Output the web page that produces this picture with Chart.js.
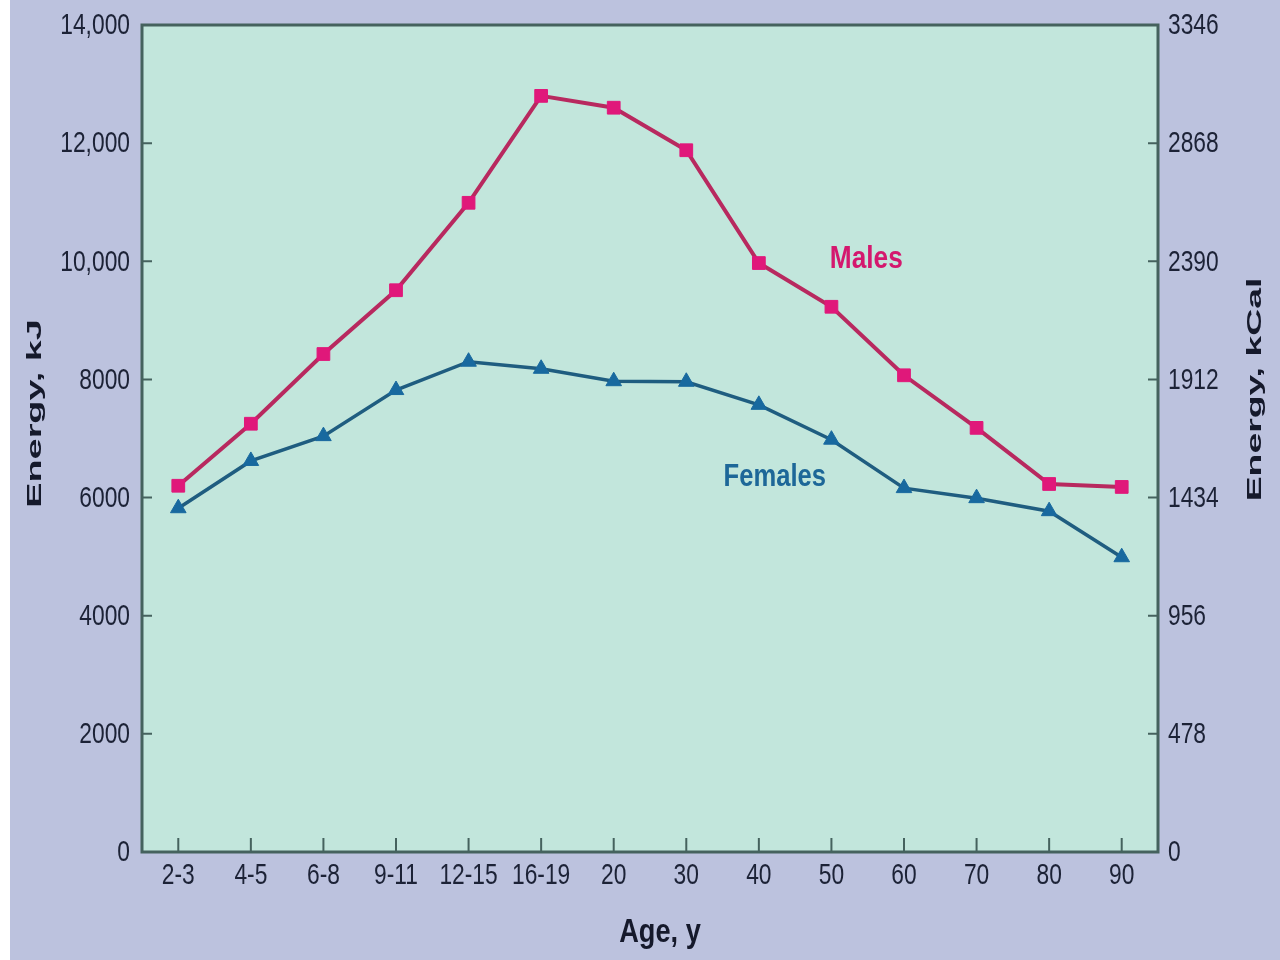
<!DOCTYPE html>
<html>
<head>
<meta charset="utf-8">
<script src="https://cdn.jsdelivr.net/npm/chart.js@4.4.1/dist/chart.umd.min.js"></script>
<style>
  html, body { margin: 0; padding: 0; background: #fff; }
  #wrap { width: 1280px; height: 960px; }
</style>
</head>
<body>
<div id="wrap"><canvas id="myChart" width="1280" height="960"></canvas></div>
<script>
// data (energy in kJ)
const ages = ['2-3', '4-5', '6-8', '9-11', '12-15', '16-19', '20', '30', '40', '50', '60', '70', '80', '90'];
const males = [6200, 7250, 8430, 9510, 10990, 12800, 12600, 11880, 9970, 9230, 8070, 7180, 6230, 6180];
const females = [5820, 6620, 7040, 7820, 8300, 8180, 7970, 7960, 7570, 6980, 6160, 5990, 5770, 4990];
const kjTicks = ['0', '2000', '4000', '6000', '8000', '10,000', '12,000', '14,000'];
const kcalTicks = ['0', '478', '956', '1434', '1912', '2390', '2868', '3346'];

const ink = '#1c2236';
const tickFont = "30px 'Liberation Sans', Arial, sans-serif";

// draw text squeezed / stretched along its own direction
function stretchText(ctx, text, x, y, font, color, sx, rot, align) {
    ctx.save();
    ctx.translate(x, y);
    if (rot) ctx.rotate(rot);
    ctx.scale(sx, 1);
    ctx.font = font;
    ctx.fillStyle = color;
    ctx.textAlign = align || 'center';
    ctx.textBaseline = 'middle';
    ctx.fillText(text, 0, 0);
    ctx.restore();
}

//background, frame, inward ticks and the labels
const frame = {
    id: 'frame',
    beforeDraw(chart) {
        const { ctx, chartArea: a } = chart;
        ctx.save();
        ctx.fillStyle = '#bcc2de';
        ctx.fillRect(10, 0, chart.width - 10, chart.height);
        ctx.fillStyle = '#c2e6dc';
        ctx.fillRect(a.left, a.top, a.right - a.left, a.bottom - a.top);
        ctx.restore();
    },
    afterDraw(chart) {
        const { ctx, chartArea: a, scales } = chart;
        ctx.save();
        ctx.strokeStyle = '#45625e';
        ctx.lineWidth = 3;
        ctx.strokeRect(a.left, a.top, a.right - a.left, a.bottom - a.top);
        ctx.lineWidth = 2;
        ctx.beginPath();
        scales.x.ticks.forEach((t, i) => {
            const px = scales.x.getPixelForTick(i);
            ctx.moveTo(px, a.bottom);
            ctx.lineTo(px, a.bottom - 14);
        });
        scales.y.ticks.forEach((t, i) => {
            const py = scales.y.getPixelForTick(i);
            ctx.moveTo(a.left, py);
            ctx.lineTo(a.left + 10, py);
        });
        scales.y2.ticks.forEach((t, i) => {
            const py = scales.y2.getPixelForTick(i);
            ctx.moveTo(a.right, py);
            ctx.lineTo(a.right - 10, py);
        });
        ctx.stroke();
        ctx.restore();

        // tick labels, narrow and tall like the print
        scales.x.ticks.forEach((t, i) => {
            stretchText(ctx, ages[i], scales.x.getPixelForTick(i), a.bottom + 24, tickFont, ink, 0.76, 0);
        });
        scales.y.ticks.forEach((t, i) => {
            stretchText(ctx, kjTicks[i], a.left - 12, scales.y.getPixelForTick(i) + 1, tickFont, ink, 0.76, 0, 'right');
        });
        scales.y2.ticks.forEach((t, i) => {
            stretchText(ctx, kcalTicks[i], a.right + 10, scales.y2.getPixelForTick(i) + 1, tickFont, ink, 0.76, 0, 'left');
        });

        const bold21 = "bold 21px 'Liberation Sans', Arial, sans-serif";
        stretchText(ctx, 'Energy, kJ', 35, (a.top + a.bottom) / 2 - 25, bold21, '#15192b', 1.8, -Math.PI / 2);
        stretchText(ctx, 'Energy, kCal', 1255, (a.top + a.bottom) / 2 - 49, bold21, '#15192b', 1.78, -Math.PI / 2);
        stretchText(ctx, 'Age, y', (a.left + a.right) / 2 + 10, 933, "bold 34px 'Liberation Sans', Arial, sans-serif", '#15192b', 0.8, 0);

        const lab = "bold 32px 'Liberation Sans', Arial, sans-serif";
        stretchText(ctx, 'Males', scales.x.getPixelForValue(9.48), scales.y.getPixelForValue(10040), lab, '#d4186e', 0.82, 0);
        stretchText(ctx, 'Females', scales.x.getPixelForValue(8.22), scales.y.getPixelForValue(6350), lab, '#1d6798', 0.8, 0);
    }
};

const config = {
    type: 'line',
    data: {
        labels: ages,
        datasets: [
            {
                label: 'Males',
                data: males,
                borderColor: '#b8295f',
                borderWidth: 4,
                backgroundColor: '#e0187a',
                pointBackgroundColor: '#e0187a',
                pointBorderColor: '#e0187a',
                pointStyle: 'rect',
                pointRadius: 9,
                pointBorderWidth: 1,
                tension: 0,
                yAxisID: 'y'
            },
            {
                label: 'Females',
                data: females,
                borderColor: '#1f5d80',
                borderWidth: 3.5,
                backgroundColor: '#18699f',
                pointBackgroundColor: '#18699f',
                pointBorderColor: '#18699f',
                pointStyle: 'triangle',
                pointRadius: 9,
                pointBorderWidth: 1,
                tension: 0,
                yAxisID: 'y'
            }
        ]
    },
    options: {
        responsive: false,
        animation: false,
        layout: { padding: { left: 10, top: 25, right: 0, bottom: 0 } },
        plugins: {
            legend: { display: false },
            tooltip: { enabled: false }
        },
        scales: {
            x: {
                offset: true,
                grid: { display: false, drawTicks: false },
                border: { display: false },
                ticks: { display: false, autoSkip: false, maxRotation: 0 },
                afterFit(s) { s.height = 108; s.paddingLeft = 0; s.paddingRight = 0; }
            },
            y: {
                position: 'left',
                min: 0,
                max: 14000,
                grid: { display: false, drawTicks: false },
                border: { display: false },
                ticks: { display: false, stepSize: 2000 },
                afterFit(s) { s.width = 132; s.paddingTop = 0; s.paddingBottom = 0; }
            },
            y2: {
                position: 'right',
                min: 0,
                max: 3346,
                grid: { display: false, drawTicks: false },
                border: { display: false },
                ticks: { display: false, stepSize: 478 },
                afterFit(s) { s.width = 122; s.paddingTop = 0; s.paddingBottom = 0; }
            }
        }
    },
    plugins: [frame]
};

new Chart(document.getElementById('myChart'), config);
</script>
</body>
</html>
